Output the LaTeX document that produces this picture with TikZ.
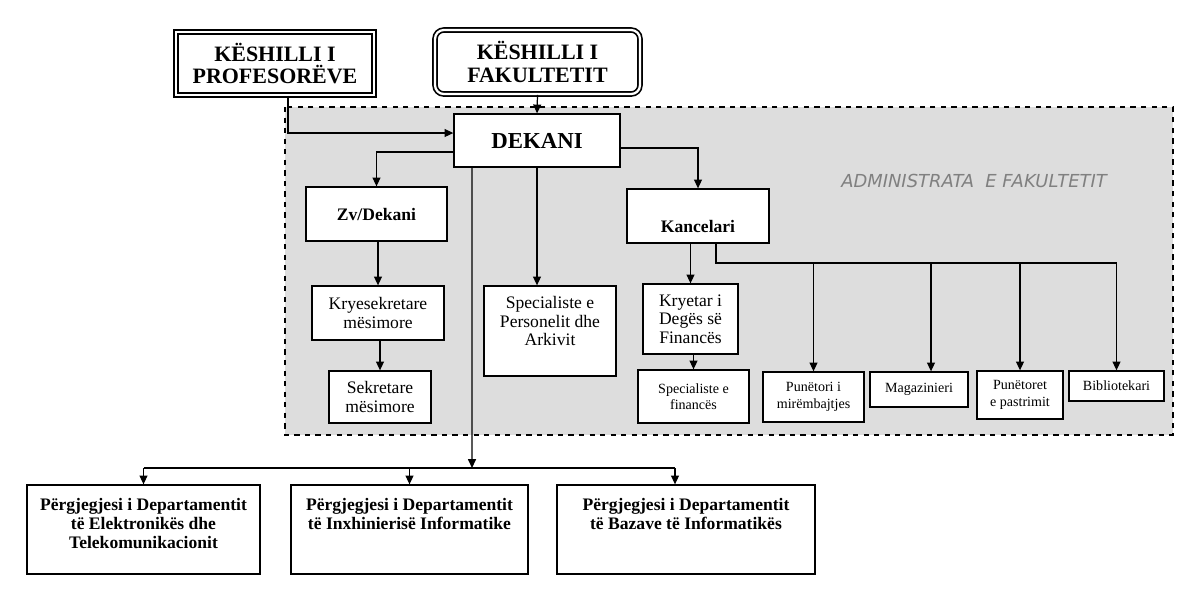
\documentclass[tikz,border=0pt]{standalone}
\usepackage{fontspec}
\setmainfont{Liberation Serif}
\newfontfamily\adminfont{DejaVu Sans}
\usetikzlibrary{arrows.meta}
\definecolor{adminbg}{RGB}{221,221,221}
\tikzset{
  box/.style={draw, line width=0.75pt, fill=white, align=center, inner sep=1pt},
  dbox/.style={box, double, line width=0.95pt, double distance=1.3pt, font=\fontsize{12.5}{12.8}\selectfont\bfseries},
  arr/.style={-{Triangle[length=5pt,width=4.5pt]}, line width=0.7pt},
  normtxt/.style={font=\fontsize{10}{10.6}\selectfont},
  smalltxt/.style={font=\fontsize{8}{9.4}\selectfont},
  headtxt/.style={font=\fontsize{10}{10.8}\selectfont\bfseries},
}

\begin{document}
\begin{tikzpicture}[x=0.02cm,y=-0.02cm]
\useasboundingbox (0,0) rectangle (1200,600);

% administrata
\draw[dashed, line width=0.6pt, fill=adminbg] (285,107) rectangle (1173,435);
\node[text=gray, font=\adminfont\itshape\fontsize{10.2}{12}\selectfont] (admin) at (974,181) {ADMINISTRATA\ \ E FAKULTETIT};

% keshillat
\node[dbox, minimum width=3.96cm, minimum height=1.26cm] (prof) at (275,63.5) {KËSHILLI I\\PROFESORËVE};
\node[dbox, rounded corners=5pt, minimum width=4.1cm, minimum height=1.28cm] (fak) at (537.5,62) {KËSHILLI I\\FAKULTETIT};

% dekani
\node[box, minimum width=3.32cm, minimum height=1.06cm, font=\fontsize{13}{14}\selectfont\bfseries] (dekani) at (537,140.5) {DEKANI};
\node[box, headtxt, minimum width=2.82cm, minimum height=1.08cm] (zv) at (376.5,214) {Zv/Dekani};
\node[box, headtxt, minimum width=2.84cm, minimum height=1.08cm, text height=0.64cm, text depth=0pt] (kanc) at (698,216) {Kancelari};

\node[box, normtxt, minimum width=2.64cm, minimum height=1.08cm] (kryes) at (378,313) {Kryesekretare\\mësimore};
\node[box, normtxt, minimum width=2.04cm, minimum height=1.04cm] (sekr) at (380,397) {Sekretare\\mësimore};
\node[box, normtxt, inner sep=0pt] (spers) at (550,331)
  {\parbox[c][1.8cm][t]{2.64cm}{\centering\vspace*{0.21cm}Specialiste e\\Personelit dhe\\Arkivit}};
\node[box, normtxt, minimum width=1.9cm, minimum height=1.4cm] (kryet) at (690.5,319) {Kryetar i\\Degës së\\Financës};

\node[box, smalltxt, minimum width=2.22cm, minimum height=1.06cm] (specfin) at (693.5,396.5) {Specialiste e\\financës};
\node[box, smalltxt, minimum width=2.02cm, minimum height=1.0cm] (pun) at (813.5,397) {Punëtori i\\mirëmbajtjes};
\node[box, smalltxt, minimum width=1.96cm, minimum height=0.7cm] (mag) at (919,389.5) {Magazinieri};
\node[box, smalltxt, minimum width=1.72cm, minimum height=0.96cm] (pastr) at (1020,395) {Punëtoret\\e pastrimit};
\node[box, smalltxt, minimum width=1.9cm, minimum height=0.6cm] (bibl) at (1116.5,386) {Bibliotekari};

% departamentet
\node[box, headtxt, inner sep=0pt] (dep1) at (143.5,529.5)
  {\parbox[c][1.78cm][t]{4.66cm}{\centering\vspace*{0.27cm}Përgjegjesi i Departamentit\\të Elektronikës dhe\\Telekomunikacionit}};
\node[box, headtxt, inner sep=0pt] (dep2) at (409.5,529.5)
  {\parbox[c][1.78cm][t]{4.74cm}{\centering\vspace*{0.27cm}Përgjegjesi i Departamentit\\të Inxhinierisë Informatike}};
\node[box, headtxt, inner sep=0pt] (dep3) at (686,529.5)
  {\parbox[c][1.78cm][t]{5.16cm}{\centering\vspace*{0.27cm}Përgjegjesi i Departamentit\\të Bazave të Informatikës}};

% lidhjet
\draw[arr] (fak.south) -- (dekani.north);
\draw[arr] ([xshift=0.26cm]prof.south) |- ([yshift=0.15cm]dekani.west);
\draw[arr] ([yshift=-0.23cm]dekani.west) -| (zv.north);
\draw[arr] ([yshift=-0.15cm]dekani.east) -| (kanc.north);
\draw[arr] (dekani.south) -- (dekani.south |- spers.north);
\draw[arr] (kryes.north |- zv.south) -- (kryes.north);
\draw[arr] (sekr.north |- kryes.south) -- (sekr.north);
\draw[arr] (kryet.north |- kanc.south) -- (kryet.north);
\draw[arr] (specfin.north |- kryet.south) -- (specfin.north);

% kancelari
\coordinate (kbr) at (716,263);
\coordinate (magin) at ([xshift=0.24cm]mag.north);
\draw[line width=0.7pt] (kanc.south -| kbr) -- (kbr) -- (kbr -| bibl.north);
\foreach \n in {pun,pastr,bibl}
  \draw[arr] (kbr -| \n.north) -- (\n.north);
\draw[arr] (kbr -| magin) -- (magin);

% departamentet
\coordinate (bar) at (472,468);
\coordinate (dep3in) at ([xshift=-0.22cm]dep3.north);
\draw[arr] ([xshift=-1.3cm]dekani.south) -- (bar);
\draw[line width=0.7pt] (bar -| dep1.north) -- (bar -| dep3in);
\foreach \n in {dep1.north,dep2.north,dep3in}
  \draw[arr] (bar -| \n) -- (\n);
\end{tikzpicture}
\end{document}
